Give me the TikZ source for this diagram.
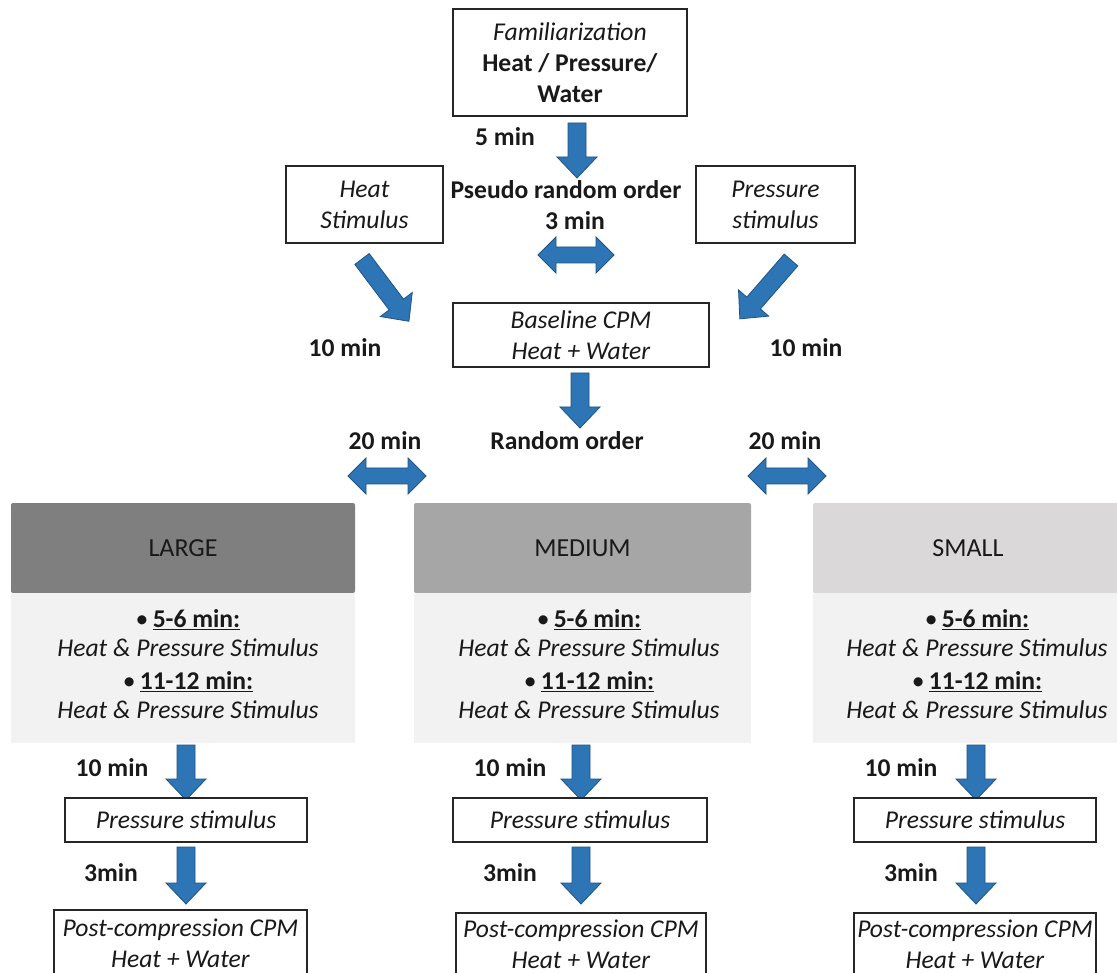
\documentclass[tikz,border=0pt]{standalone}
\usepackage{fontspec}
\setmainfont{Carlito}
\definecolor{arrfill}{RGB}{46,117,182}
\definecolor{arrdraw}{RGB}{31,84,134}
\definecolor{hlarge}{RGB}{127,127,127}
\definecolor{hmed}{RGB}{166,166,166}
\definecolor{hsmall}{RGB}{218,216,216}
\definecolor{bodyg}{RGB}{242,242,242}
\definecolor{txt}{RGB}{25,25,25}
\tikzset{
  arrowsty/.style={fill=arrfill, draw=arrdraw, line width=0.8pt, line join=miter},
  pics/barrow/.style={code={\path[arrowsty] (0,-9) -- ({#1-21},-9) -- ({#1-21},-20) -- (#1,0) -- ({#1-21},20) -- ({#1-21},9) -- (0,9) -- cycle;}},
  pics/darrow/.style={code={\path[arrowsty] (-#1,0) -- ({-#1+18},-18) -- ({-#1+18},-8) -- ({#1-18},-8) -- ({#1-18},-18) -- (#1,0) -- ({#1-18},18) -- ({#1-18},8) -- ({-#1+18},8) -- ({-#1+18},18) -- cycle;}},
  box/.style={draw=black!85, line width=1.2pt, fill=white, inner sep=0pt, align=center},
  lbl/.style={font=\fontsize{25.6}{31}\selectfont\bfseries, inner sep=0pt},
  head/.style={inner sep=0pt, font=\fontsize{26}{31}\selectfont, minimum height=90, rounded corners=2pt},
  bodybox/.style={fill=bodyg, inner sep=0pt, minimum height=150},
  bodytxt/.style={inner sep=0pt, align=center, font=\fontsize{25.6}{28.5}\selectfont},
}
\newcommand{\colbody}{\textbullet\,\underline{\textbf{5-6 min:}}\\ \textit{Heat \& Pressure Stimulus}\\[5pt] \textbullet\,\underline{\textbf{11-12 min:}}\\ \textit{Heat \& Pressure Stimulus}}
\begin{document}
\begin{tikzpicture}[x=1pt, y=-1pt, font=\fontsize{25.6}{31}\selectfont, every node/.append style={text=txt}]
\useasboundingbox[fill=white] (0,0) rectangle (1117,973);

% top part
\node[box, minimum width=234, minimum height=107] (fam) at (570,62.5)
  {\textit{Familiarization}\\ \textbf{Heat / Pressure/}\\ \textbf{Water}};
\node[lbl] (l5) at (505,137) {5 min};
\pic[rotate=-90] at (577,123) {barrow=55};
\node[box, minimum width=157, minimum height=77] (heat) at (364.5,204.5)
  {\textit{Heat}\\ \textit{Stimulus}};
\node[box, minimum width=159, minimum height=77] (press) at (775.5,204.5)
  {\textit{Pressure}\\ \textit{stimulus}};
\node[lbl] (pro) at (566,190) {Pseudo random order};
\node[lbl] (l3) at (575,221) {3 min};
\pic at (576,255) {darrow=38};
\pic[rotate=-53] at (362,259) {barrow=78};
\pic[rotate=-131] at (791,260) {barrow=78};

\node[box, minimum width=256, minimum height=64] (base) at (581,335)
  {\textit{Baseline CPM}\\ \textit{Heat + Water}};
\node[lbl] (l10a) at (345,348) {10 min};
\node[lbl] (l10b) at (806,348) {10 min};
\pic[rotate=-90] at (580,373) {barrow=55};
\node[lbl] (ro) at (567,441) {Random order};
\node[lbl] (l20a) at (385,441) {20 min};
\node[lbl] (l20b) at (785,441) {20 min};
\pic at (387,476) {darrow=39};
\pic at (787,476) {darrow=39};

% columns
\node[head, fill=hlarge, minimum width=344] (hl) at (183,548) {LARGE};
\node[head, fill=hmed, minimum width=337] (hm) at (582.5,548) {MEDIUM};
\node[head, fill=hsmall, minimum width=310] (hs) at (968,548) {SMALL};
\node[bodybox, minimum width=344] (bl) at (183,668) {};
\node[bodybox, minimum width=337] (bm) at (582.5,668) {};
\node[bodybox, minimum width=310] (bs) at (968,668) {};
\node[bodytxt] (tl) at (188,664) {\colbody};
\node[bodytxt] (tm) at (589,664) {\colbody};
\node[bodytxt] (ts) at (977,664) {\colbody};

% LARGE lower
\pic[rotate=-90] at (186,745) {barrow=55};
\node[lbl] (l10l) at (112,768) {10 min};
\node[box, minimum width=242, minimum height=44] (psl) at (186,820) {\textit{Pressure stimulus}};
\pic[rotate=-90] at (186,847) {barrow=57};
\node[lbl] (l3l) at (111,873) {3min};
\node[box, minimum width=253, minimum height=66] (pcl) at (180.5,943)
  {\textit{Post-compression CPM}\\ \textit{Heat + Water}};

% MEDIUM lower
\pic[rotate=-90] at (581,745) {barrow=55};
\node[lbl] (l10m) at (510,768) {10 min};
\node[box, minimum width=254, minimum height=44] (psm) at (580,820) {\textit{Pressure stimulus}};
\pic[rotate=-90] at (581,847) {barrow=57};
\node[lbl] (l3m) at (510,873) {3min};
\node[box, minimum width=250, minimum height=62] (pcm) at (581,944)
  {\textit{Post-compression CPM}\\ \textit{Heat + Water}};

% SMALL lower
\pic[rotate=-90] at (976,745) {barrow=55};
\node[lbl] (l10s) at (901,768) {10 min};
\node[box, minimum width=242, minimum height=44] (pss) at (975,820) {\textit{Pressure stimulus}};
\pic[rotate=-90] at (976,847) {barrow=57};
\node[lbl] (l3s) at (911,873) {3min};
\node[box, minimum width=242, minimum height=62] (pcs) at (975,944)
  {\textit{Post-compression CPM}\\ \textit{Heat + Water}};
\end{tikzpicture}
\end{document}
